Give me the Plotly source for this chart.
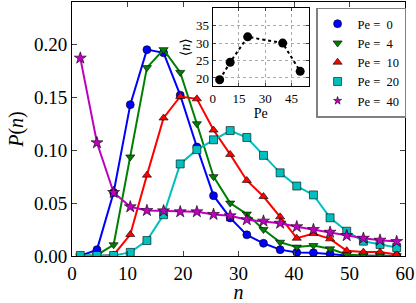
import plotly.graph_objects as go

n_bins = [1.5 + 3 * k for k in range(20)]

p_pe0 = [0.0, 0.006, 0.060, 0.143, 0.195, 0.192, 0.152, 0.103, 0.057, 0.036,
         0.020, 0.012, 0.006, 0.0034, 0.003, 0.002, 0.0005, 0.0003, 0.0002, 0.0001]
p_pe4 = [0.0, 0.001, 0.0106, 0.0936, 0.178, 0.195, 0.1735, 0.125, 0.075, 0.050,
         0.0396, 0.025, 0.013, 0.0084, 0.0099, 0.0068, 0.0015, 0.0005, 0.0004, 0.0003]
p_pe10 = [0.0, 0.0, 0.001, 0.0203, 0.0764, 0.1304, 0.1507, 0.1485, 0.119, 0.096,
          0.0714, 0.0562, 0.037, 0.0168, 0.0212, 0.0162, 0.005, 0.0037, 0.0037, 0.0015]
p_pe20 = [0.0005, 0.0005, 0.0005, 0.0034, 0.0146, 0.039, 0.087, 0.1005, 0.1098, 0.1185,
          0.112, 0.0951, 0.0786, 0.0661, 0.0577, 0.0361, 0.0234, 0.014, 0.0109, 0.008]
p_pe40 = [0.187, 0.107, 0.060, 0.0465, 0.043, 0.0427, 0.0418, 0.0418, 0.0393, 0.038,
          0.0343, 0.033, 0.031, 0.0277, 0.025, 0.0225, 0.0193, 0.0168, 0.015, 0.0137]

series_names = ["Pe =  0", "Pe =  4", "Pe =  10", "Pe =  20", "Pe =  40"]
series_values = [p_pe0, p_pe4, p_pe10, p_pe20, p_pe40]
colors = ["#0000ff", "#008000", "#ff0000", "#00bfbf", "#bf00bf"]
symbols = ["circle", "triangle-down", "triangle-up", "square", "star"]

inset_pe = [4, 10, 20, 40, 50]
inset_mean_n = [19.5, 24.5, 31.8, 30.0, 21.9]

FONT = "'Liberation Serif', 'Times New Roman', 'DejaVu Serif', serif"

fig = go.Figure()
for name, vals, c, s in zip(series_names, series_values, colors, symbols):
    fig.add_trace(go.Scatter(
        x=n_bins, y=vals, mode="lines+markers", showlegend=False,
        line=dict(color=c, width=2),
        marker=dict(symbol=s, size=8 if s != "star" else 9, color=c,
                    line=dict(color="black", width=0.6)),
        xaxis="x", yaxis="y"))
for name, c, s in zip(series_names, colors, symbols):
    fig.add_trace(go.Scatter(
        x=[None], y=[None], mode="markers", name=name,
        marker=dict(symbol=s, size=8 if s != "star" else 6, color=c,
                    line=dict(color="black", width=0.6)),
        xaxis="x", yaxis="y"))

fig.add_trace(go.Scatter(
    x=inset_pe, y=inset_mean_n, mode="lines+markers", showlegend=False,
    line=dict(color="black", width=2, dash="dot"),
    marker=dict(symbol="circle", size=9, color="black"),
    xaxis="x2", yaxis="y2"))

fig.update_layout(
    width=416, height=303,
    margin=dict(l=72, r=10, t=1, b=46),
    paper_bgcolor="white", plot_bgcolor="white",
    font=dict(family=FONT, color="black"),
    xaxis=dict(range=[0, 60], dtick=10, ticks="inside", ticklen=5,
               showline=True, mirror="ticks", linecolor="black", linewidth=1,
               showgrid=False, zeroline=False, tickfont=dict(size=19),
               title=dict(text="<i>n</i>", font=dict(size=20), standoff=4)),
    yaxis=dict(range=[0, 0.24], dtick=0.05, tickformat=".2f", ticks="inside", ticklen=5,
               showline=True, mirror="ticks", linecolor="black", linewidth=1,
               showgrid=False, zeroline=False, tickfont=dict(size=19),
               title=dict(text="<i>P</i>(<i>n</i>)", font=dict(size=20), standoff=4)),
    xaxis2=dict(domain=[0.4224, 0.7115], anchor="y2", range=[0, 55],
                tickvals=[0, 15, 30, 45], ticks="inside", ticklen=3,
                showline=True, mirror="ticks", linecolor="black", linewidth=1,
                showgrid=True, gridcolor="#aaaaaa", griddash="dot", gridwidth=1,
                zeroline=False, tickfont=dict(size=13),
                title=dict(text="Pe", font=dict(size=14), standoff=2)),
    yaxis2=dict(domain=[0.668, 0.9754], anchor="x2", range=[17.6, 40],
                tickvals=[20, 25, 30, 35], ticks="inside", ticklen=3,
                showline=True, mirror="ticks", linecolor="black", linewidth=1,
                showgrid=True, gridcolor="#aaaaaa", griddash="dot", gridwidth=1,
                zeroline=False, tickfont=dict(size=13),
                title=dict(text="⟨<i>n</i>⟩", font=dict(size=14), standoff=2)),
    legend=dict(x=0.733, y=0.978, xanchor="left", yanchor="top",
                bgcolor="white", bordercolor="#808080", borderwidth=1.5,
                font=dict(size=12.5, family=FONT), itemwidth=30,
                tracegroupgap=0),
)

fig.write_html("out.html", config={"displayModeBar": False},
               post_script="document.body.style.margin='0';document.body.style.padding='0';")
